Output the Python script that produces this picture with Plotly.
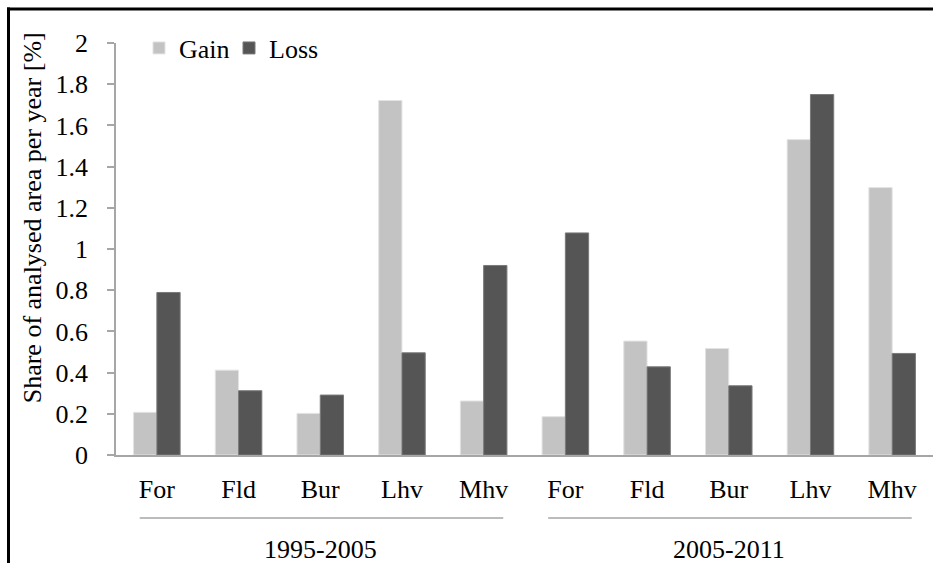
import plotly.graph_objects as go

# ---- data ----
categories = ["For", "Fld", "Bur", "Lhv", "Mhv", "For", "Fld", "Bur", "Lhv", "Mhv"]
periods = ["1995-2005", "2005-2011"]
gain = [0.207, 0.412, 0.202, 1.721, 0.262, 0.186, 0.553, 0.517, 1.531, 1.298]
loss = [0.789, 0.312, 0.291, 0.496, 0.920, 1.078, 0.428, 0.336, 1.750, 0.493]
y_ticks = [0, 0.2, 0.4, 0.6, 0.8, 1, 1.2, 1.4, 1.6, 1.8, 2]
y_title = "Share of analysed area per year [%]"

FONT = "Liberation Serif"
FS = 26
AXIS_GRAY = "#a6a6a6"

xpos = list(range(len(categories)))

fig = go.Figure()
fig.add_trace(go.Bar(x=xpos, y=gain, name="Gain",
                     marker=dict(color="#c3c3c3", line=dict(color="#e3e3e3", width=1))))
fig.add_trace(go.Bar(x=xpos, y=loss, name="Loss",
                     marker=dict(color="#555555", line=dict(color="#7a7a7a", width=1))))

W, H = 933, 563
L, R, T, B = 116, 0, 42.5, 108
pw = W - L - R
ph = H - T - B

def px_x(p):
    return (p - L) / pw

def px_y(p):
    return (H - B - p) / ph

fig.update_layout(
    width=W, height=H,
    margin=dict(l=L, r=R, t=T, b=B, autoexpand=False),
    paper_bgcolor="white", plot_bgcolor="white",
    font=dict(family=FONT, size=FS, color="black"),
    barmode="group", bargap=0.43, bargroupgap=0,
    showlegend=True,
    legend=dict(orientation="h", x=px_x(139), y=px_y(24), xanchor="left", yanchor="top",
                bgcolor="rgba(0,0,0,0)", font=dict(size=FS, family=FONT, color="black"),
                entrywidth=45, entrywidthmode="pixels", itemclick=False),
    xaxis=dict(range=[-0.5, len(categories) - 0.5], tickmode="array", tickvals=xpos,
               ticktext=categories, showgrid=False, zeroline=False,
               showline=True, linecolor=AXIS_GRAY, linewidth=1.5, ticks="",
               ticklabelstandoff=10, tickfont=dict(size=FS, family=FONT, color="black")),
    yaxis=dict(range=[0, 2], tickmode="array", tickvals=y_ticks, showgrid=False,
               zeroline=False, showline=True, linecolor=AXIS_GRAY, linewidth=1.5,
               ticks="outside", ticklen=7, tickcolor=AXIS_GRAY, tickwidth=1.5,
               ticklabelstandoff=14, tickfont=dict(size=FS, family=FONT, color="black")),
)

# y-axis title (placed like the original, slightly above centre)
fig.add_annotation(text=y_title, textangle=-90, showarrow=False,
                   xref="paper", yref="paper", x=px_x(32), y=px_y(218),
                   xanchor="center", yanchor="middle",
                   font=dict(size=FS, family=FONT, color="black"))

# group separators and labels
group_spans = [(0, 4), (5, 9)]
for (a, b), label in zip(group_spans, periods):
    fig.add_shape(type="line", xref="x", yref="paper",
                  x0=a - 0.21, x1=b + 0.24, y0=px_y(518), y1=px_y(518),
                  line=dict(color=AXIS_GRAY, width=1.5))
    fig.add_annotation(x=(a + b) / 2, xref="x", y=px_y(550), yref="paper",
                       text=label, showarrow=False, yanchor="middle",
                       font=dict(size=FS, family=FONT, color="black"))

# outer frame (top and left edges)
fig.add_shape(type="line", xref="paper", yref="paper",
              x0=px_x(7), x1=px_x(W + 2), y0=px_y(8.5), y1=px_y(8.5),
              line=dict(color="black", width=3))
fig.add_shape(type="line", xref="paper", yref="paper",
              x0=px_x(8.5), x1=px_x(8.5), y0=px_y(7), y1=px_y(H + 2),
              line=dict(color="black", width=3))

fig.write_html("out.html", config={"displayModeBar": False},
               post_script="document.body.style.margin='0';document.body.style.overflow='hidden';")
